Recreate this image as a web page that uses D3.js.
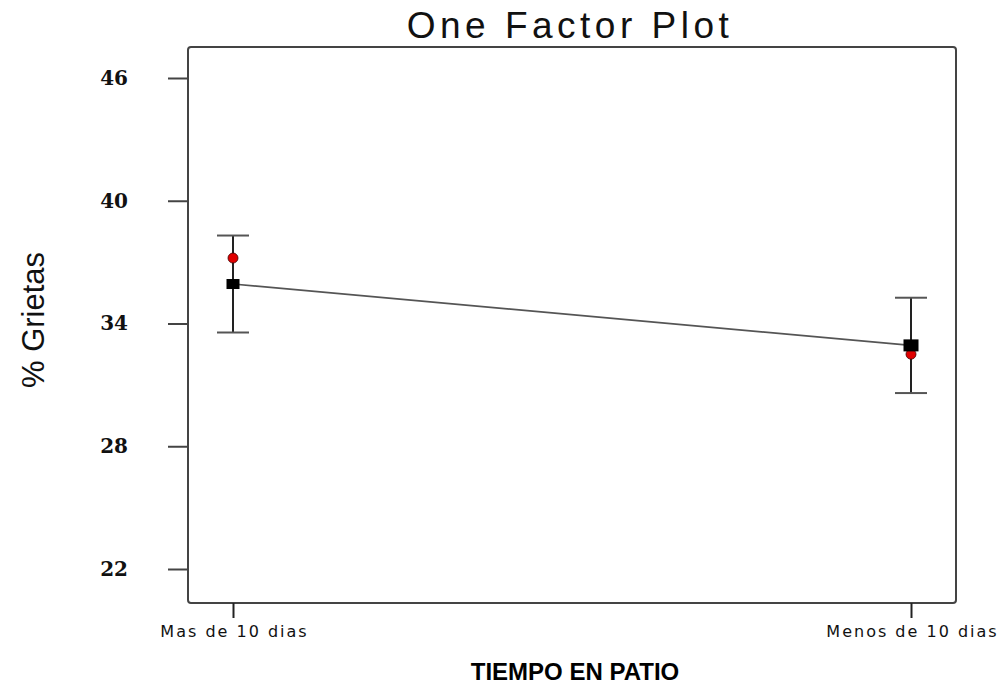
<!DOCTYPE html>
<html>
<head>
<meta charset="utf-8">
<script src="https://cdn.jsdelivr.net/npm/d3@7"></script>
<style>
  html, body { margin: 0; padding: 0; background: #fff; }
  svg { display: block; }
</style>
</head>
<body>
<script>
// One-factor effect plot: % Grietas by TIEMPO EN PATIO
const categories = ["Mas de 10 dias", "Menos de 10 dias"];
const predicted = [35.93, 32.93];   // model prediction (black squares)
const observed = [37.2, 32.5];      // design point (red dots)
const lowerLSD = [33.56, 30.6];
const upperLSD = [38.3, 35.26];
const yTicks = [22, 28, 34, 40, 46];

const W = 1008, H = 686;
const frame = { left: 188, right: 956, top: 47, bottom: 603 };

const svg = d3.select("body").append("svg")
  .attr("width", W).attr("height", H);

const y = d3.scaleLinear()
  .domain([22 - (603 - 569) / 20.46, 46 + (78 - 47) / 20.46])
  .range([frame.bottom, frame.top]);

const x = d3.scalePoint()
  .domain(categories)
  .range([233, 911]);

// plot frame
svg.append("rect")
  .attr("x", frame.left).attr("y", frame.top)
  .attr("width", frame.right - frame.left)
  .attr("height", frame.bottom - frame.top)
  .attr("rx", 3)
  .attr("fill", "none")
  .attr("stroke", "#444")
  .attr("stroke-width", 2);

// y axis
const yAxis = svg.append("g")
  .attr("transform", `translate(${frame.left},0)`)
  .call(d3.axisLeft(y).tickValues(yTicks).tickSize(20).tickPadding(40).tickFormat(d3.format("d")));
yAxis.select(".domain").remove();
yAxis.selectAll(".tick line").attr("stroke", "#444").attr("stroke-width", 2);
yAxis.selectAll(".tick text")
  .attr("fill", "#111")
  .style("font-family", "'DejaVu Serif', 'Liberation Serif', serif")
  .style("font-weight", "bold")
  .style("font-size", "20px");

// x axis
const xAxis = svg.append("g")
  .attr("transform", `translate(0,${frame.bottom})`)
  .call(d3.axisBottom(x).tickSize(15).tickPadding(8));
xAxis.select(".domain").remove();
xAxis.selectAll(".tick line").attr("stroke", "#222").attr("stroke-width", 2);
xAxis.selectAll(".tick text")
  .attr("fill", "#111")
  .attr("dx", "1px")
  .style("font-family", "'DejaVu Sans', sans-serif")
  .style("font-size", "16px")
  .style("letter-spacing", "2px");

// connecting line between predictions
const line = d3.line()
  .x((d, i) => x(categories[i]))
  .y(d => y(d));
svg.append("path")
  .datum(predicted)
  .attr("d", line)
  .attr("fill", "none")
  .attr("stroke", "#555")
  .attr("stroke-width", 1.6);

// LSD error bars
const capHalf = 16;
const bars = svg.append("g").selectAll("g")
  .data(categories)
  .join("g");
bars.append("line")
  .attr("x1", d => x(d)).attr("x2", d => x(d))
  .attr("y1", (d, i) => y(upperLSD[i])).attr("y2", (d, i) => y(lowerLSD[i]))
  .attr("stroke", "#222").attr("stroke-width", 2);
bars.append("line")
  .attr("x1", d => x(d) - capHalf).attr("x2", d => x(d) + capHalf)
  .attr("y1", (d, i) => y(upperLSD[i])).attr("y2", (d, i) => y(upperLSD[i]))
  .attr("stroke", "#555").attr("stroke-width", 2);
bars.append("line")
  .attr("x1", d => x(d) - capHalf).attr("x2", d => x(d) + capHalf)
  .attr("y1", (d, i) => y(lowerLSD[i])).attr("y2", (d, i) => y(lowerLSD[i]))
  .attr("stroke", "#555").attr("stroke-width", 2);

// design points
svg.append("g").selectAll("circle")
  .data(observed)
  .join("circle")
  .attr("cx", (d, i) => x(categories[i]))
  .attr("cy", d => y(d))
  .attr("r", 5)
  .attr("fill", "#e00000")
  .attr("stroke", "#400")
  .attr("stroke-width", 0.8);

// predictions
const sq = [13, 15];
svg.append("g").selectAll("rect")
  .data(predicted)
  .join("rect")
  .attr("x", (d, i) => x(categories[i]) - sq[i] / 2)
  .attr("y", (d, i) => y(d) - (sq[i] - 3) / 2)
  .attr("width", (d, i) => sq[i])
  .attr("height", (d, i) => sq[i] - 3)
  .attr("fill", "#000");

// title
svg.append("text")
  .attr("x", 570).attr("y", 38)
  .attr("text-anchor", "middle")
  .style("font-family", "'Liberation Sans', Arial, sans-serif")
  .style("font-size", "37px")
  .style("letter-spacing", "4.5px")
  .attr("fill", "#111")
  .text("One Factor Plot");

// axis titles
svg.append("text")
  .attr("transform", "translate(44,320) rotate(-90)")
  .attr("text-anchor", "middle")
  .style("font-family", "'Liberation Sans', Arial, sans-serif")
  .style("font-size", "31px")
  .attr("fill", "#111")
  .text("% Grietas");

svg.append("text")
  .attr("x", 575).attr("y", 680)
  .attr("text-anchor", "middle")
  .style("font-family", "'Liberation Sans', Arial, sans-serif")
  .style("font-weight", "bold")
  .style("font-size", "24px")
  .attr("fill", "#000")
  .text("TIEMPO EN PATIO");
</script>
</body>
</html>
